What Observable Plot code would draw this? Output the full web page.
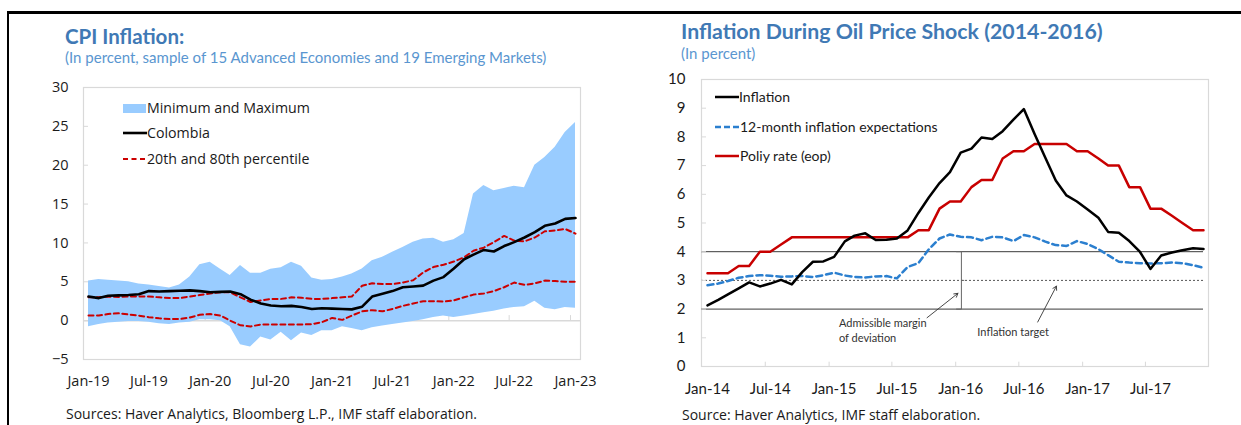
<!DOCTYPE html>
<html><head><meta charset="utf-8">
<script src="https://cdn.jsdelivr.net/npm/d3@7"></script>
<script src="https://cdn.jsdelivr.net/npm/@observablehq/plot@0.6"></script>
<style>
html,body{margin:0;padding:0;background:#fff;}
body{width:1241px;height:425px;overflow:hidden;position:relative;font-family:"Open Sans",sans-serif;}
.abs{position:absolute;white-space:nowrap;transform:translateY(-50%);line-height:1.2;}
.chart{position:absolute;}
</style></head><body>
<div style="position:absolute;left:8px;top:11px;width:1233px;height:2.5px;background:#000"></div>
<div style="position:absolute;left:7px;top:11px;width:2px;height:414px;background:#000"></div>
<script>
// ---------- Left chart: CPI inflation (monthly Jan-19 .. Jan-23) ----------
const cpiStart = "2019-01-01", cpiEnd = "2023-01-01";
const cpiMax = [5.1,5.3,5.2,5.1,5.0,4.7,4.6,4.4,4.2,4.6,5.6,7.2,7.5,6.6,5.8,7.1,6.1,6.1,6.6,6.8,7.5,7.0,5.5,5.2,
  5.3,5.6,6.0,6.65,7.7,8.15,8.8,9.4,10.1,10.5,10.6,10.1,10.4,11.2,16.3,17.4,16.7,17.0,17.3,17.1,20.0,21.0,22.3,24.2,25.5];
const cpiMin = [-0.8,-0.5,-0.3,-0.2,-0.1,-0.1,-0.2,-0.4,-0.5,-0.3,-0.2,0.1,0.1,0.0,-0.8,-3.1,-3.4,-2.1,-2.5,-1.5,-2.6,-1.6,-1.9,-1.3,
  -1.3,-0.8,-1.0,-1.3,-0.9,-0.7,-0.5,-0.3,-0.1,0.1,0.4,0.6,0.4,0.6,0.8,1.0,1.2,1.5,1.7,1.8,2.5,1.6,1.4,1.7,1.6];
const colombia = [3.1,2.9,3.2,3.25,3.3,3.4,3.8,3.75,3.8,3.85,3.9,3.8,3.65,3.7,3.75,3.4,2.7,2.2,1.95,1.85,1.9,1.75,1.5,1.6,
  1.55,1.5,1.45,1.8,3.1,3.45,3.8,4.3,4.4,4.5,5.15,5.6,6.7,7.9,8.5,9.1,8.9,9.6,10.1,10.7,11.4,12.2,12.5,13.1,13.2];
const p80 = [3.0,3.0,3.1,3.05,3.1,3.1,3.1,3.0,2.9,2.9,3.1,3.3,3.5,3.65,3.65,3.0,2.4,2.6,2.8,2.8,3.0,2.95,2.8,2.8,
  2.9,3.0,3.1,4.5,4.8,4.7,4.7,4.9,5.2,6.2,6.9,7.2,7.6,8.15,9.0,9.4,10.1,10.9,10.3,10.2,10.7,11.5,11.6,11.8,11.2];
const p20 = [0.65,0.65,0.85,0.95,0.8,0.65,0.45,0.3,0.2,0.2,0.4,0.75,0.85,0.65,0.0,-0.6,-0.75,-0.5,-0.5,-0.5,-0.5,-0.5,-0.45,-0.2,
  0.35,0.1,0.65,1.2,1.35,1.2,1.5,1.9,2.2,2.5,2.5,2.45,2.6,3.0,3.35,3.5,3.8,4.3,4.9,4.6,4.8,5.15,5.1,5.0,5.0];
const cpiTickDates = ["2019-01-01","2019-07-01","2020-01-01","2020-07-01","2021-01-01","2021-07-01","2022-01-01","2022-07-01","2023-01-01"];
const cpiTickLabels = ["Jan-19","Jul-19","Jan-20","Jul-20","Jan-21","Jul-21","Jan-22","Jul-22","Jan-23"];
const cpiYTicks = [-5,0,5,10,15,20,25,30];
const cpiLegend = ["Minimum and Maximum","Colombia","20th and 80th percentile"];

// ---------- Right chart: oil price shock (monthly Jan-14 .. Dec-17) ----------
const oilStart = "2014-01-01", oilEnd = "2017-12-01";
const inflation = [2.13,2.32,2.51,2.72,2.93,2.79,2.89,3.02,2.86,3.29,3.65,3.66,
  3.82,4.36,4.56,4.64,4.41,4.42,4.46,4.74,5.35,5.89,6.39,6.77,
  7.45,7.59,7.98,7.93,8.20,8.60,8.97,8.10,7.27,6.48,5.96,5.75,
  5.47,5.18,4.69,4.66,4.37,3.99,3.40,3.87,3.97,4.05,4.12,4.09];
const expectations = [2.83,2.89,2.98,3.09,3.15,3.18,3.16,3.13,3.14,3.15,3.12,3.18,
  3.27,3.17,3.12,3.10,3.14,3.15,3.07,3.47,3.60,4.08,4.46,4.60,
  4.52,4.50,4.40,4.52,4.50,4.37,4.58,4.50,4.35,4.23,4.20,4.37,
  4.27,4.09,3.88,3.65,3.62,3.60,3.59,3.60,3.62,3.60,3.53,3.44];
const policyRate = [3.25,3.25,3.25,3.5,3.5,4.0,4.0,4.25,4.5,4.5,4.5,4.5,
  4.5,4.5,4.5,4.5,4.5,4.5,4.5,4.5,4.75,4.75,5.5,5.75,
  5.75,6.25,6.5,6.5,7.25,7.5,7.5,7.75,7.75,7.75,7.75,7.5,
  7.5,7.25,7.0,7.0,6.25,6.25,5.5,5.5,5.25,5.0,4.75,4.75];
const oilTickDates = ["2014-01-01","2014-07-01","2015-01-01","2015-07-01","2016-01-01","2016-07-01","2017-01-01","2017-07-01"];
const oilTickLabels = ["Jan-14","Jul-14","Jan-15","Jul-15","Jan-16","Jul-16","Jan-17","Jul-17"];
const oilYTicks = [0,1,2,3,4,5,6,7,8,9,10];
const oilLegend = ["Inflation","12-month inflation expectations","Poliy rate (eop)"];
const targetBand = [2,4];      // admissible margin
const targetLine = [3];        // inflation target
const bracketPts = [{date:"2015-12-20",v:4},{date:"2016-01-03",v:4},{date:"2016-01-03",v:2},{date:"2015-12-20",v:2}];
const bracketMid = [{date:"2016-01-03",v:3},{date:"2016-01-10",v:3}];
const annotArrows = [
  {x1:"2015-09-26",y1:1.70,x2:"2015-12-24",y2:2.55},
  {x1:"2016-08-10",y1:1.55,x2:"2016-10-03",y2:2.80}
];
const annotTexts = [
  {date:"2015-01-15",v:1.28,text:"Admissible margin\nof deviation"},
  {date:"2016-02-18",v:1.22,text:"Inflation target"}
];

// ---------- helpers ----------
const P = s => new Date(s + (s.length === 10 ? "T00:00:00Z" : ""));
const months = (a, b) => d3.utcMonth.range(P(a), d3.utcMonth.offset(P(b), 1));

function addText(txt, x, y, css) {
  const d = document.createElement("div");
  d.className = "abs"; d.textContent = txt;
  d.style.left = x + "px"; d.style.top = y + "px";
  Object.assign(d.style, css);
  document.body.appendChild(d);
  return d;
}
function addSwatch(x, y, w, h, svgInner) {
  const s = document.createElementNS("http://www.w3.org/2000/svg", "svg");
  s.setAttribute("width", w); s.setAttribute("height", h);
  s.style.position = "absolute"; s.style.left = x + "px"; s.style.top = (y - h/2) + "px";
  s.innerHTML = svgInner;
  document.body.appendChild(s);
}

// ---------- left chart ----------
const cpiDates = months(cpiStart, cpiEnd);
const cpiData = cpiDates.map((d, i) => ({date: d, min: cpiMin[i], max: cpiMax[i], col: colombia[i], p20: p20[i], p80: p80[i]}));
const cpiLabelMap = new Map(cpiTickDates.map((d, i) => [+P(d), cpiTickLabels[i]]));
const grid = "#d9d9d9";

const left = Plot.plot({
  width: 600, height: 330,
  marginLeft: 83, marginRight: 20, marginTop: 17, marginBottom: 41,
  x: {type: "utc", domain: [P(cpiStart), P(cpiEnd)], range: [88, 575]},
  y: {domain: [-5, 30]},
  style: {fontFamily: "'Open Sans', sans-serif", fontSize: "14.5px", color: "#1a1a1a", background: "transparent", overflow: "visible"},
  marks: [
    Plot.frame({stroke: grid, strokeWidth: 1.2}),
    Plot.ruleY([0], {stroke: grid, strokeWidth: 1.5}),
    Plot.ruleX(cpiTickDates.slice(1).map(P), {y1: 0, y2: 0.65, stroke: grid, dx: -5}),
    Plot.areaY(cpiData, {x: "date", y1: "min", y2: "max", fill: "#99ccff"}),
    Plot.line(cpiData, {x: "date", y: "p80", stroke: "#cc0000", strokeWidth: 2, strokeDasharray: "5,3.5"}),
    Plot.line(cpiData, {x: "date", y: "p20", stroke: "#cc0000", strokeWidth: 2, strokeDasharray: "5,3.5"}),
    Plot.line(cpiData, {x: "date", y: "col", stroke: "#000", strokeWidth: 2.6}),
    Plot.tickY(cpiYTicks, {y: d => d, stroke: grid, insetRight: 492}),
    Plot.axisY({ticks: cpiYTicks, tickSize: 0, tickPadding: 15, fill: "#1a1a1a"}),
    Plot.axisX({ticks: cpiTickDates.map(P), tickFormat: d => cpiLabelMap.get(+d), tickSize: 0, tickPadding: 16, fill: "#1a1a1a"})
  ]
});
left.classList.add("chart");
left.style.left = "0px"; left.style.top = "70px";
document.body.appendChild(left);

// ---------- right chart ----------
const oilDates = months(oilStart, oilEnd);
const oilData = oilDates.map((d, i) => ({date: d, inf: inflation[i], exp: expectations[i], rate: policyRate[i]}));
const oilLabelMap = new Map(oilTickDates.map((d, i) => [+P(d), oilTickLabels[i]]));

const right = Plot.plot({
  width: 610, height: 345,
  marginLeft: 81, marginRight: 22, marginTop: 15, marginBottom: 43,
  x: {type: "utc", domain: [P(oilStart), P(oilEnd)], range: [87, 583]},
  y: {domain: [0, 10]},
  style: {fontFamily: "Lato, sans-serif", fontSize: "15px", color: "#1a1a1a", background: "transparent", overflow: "visible"},
  marks: [
    Plot.frame({stroke: grid, strokeWidth: 1.2}),
    Plot.ruleX(oilTickDates.slice(1).map(P), {y1: 0, y2: 0.15, stroke: grid, dx: -5}),
    Plot.ruleY(targetBand, {stroke: "#3a3a3a", strokeWidth: 1, insetRight: 5}),
    Plot.ruleY(targetLine, {stroke: "#555", strokeWidth: 1, strokeDasharray: "2,2", insetRight: 5}),
    Plot.line(bracketPts, {x: d => P(d.date), y: "v", stroke: "#666", strokeWidth: 1}),
    Plot.line(bracketMid, {x: d => P(d.date), y: "v", stroke: "#666", strokeWidth: 1}),
    Plot.arrow(annotArrows, {x1: d => P(d.x1), y1: "y1", x2: d => P(d.x2), y2: "y2", stroke: "#333", strokeWidth: 0.9, headLength: 7}),
    Plot.text(annotTexts, {x: d => P(d.date), y: "v", text: "text", textAnchor: "start", lineAnchor: "middle", lineHeight: 1.35, fontSize: 11, fontFamily: "Lato, sans-serif", fill: "#333"}),
    Plot.line(oilData, {x: "date", y: "exp", stroke: "#2b7fcf", strokeWidth: 2.5, strokeDasharray: "6,4"}),
    Plot.line(oilData, {x: "date", y: "rate", stroke: "#c80000", strokeWidth: 2.5}),
    Plot.line(oilData, {x: "date", y: "inf", stroke: "#000", strokeWidth: 2.5}),
    Plot.tickY(oilYTicks, {y: d => d, stroke: grid, insetRight: 502}),
    Plot.axisY({ticks: oilYTicks, tickSize: 0, tickPadding: 16, fill: "#1a1a1a"}),
    Plot.axisX({ticks: oilTickDates.map(P), tickFormat: d => oilLabelMap.get(+d), tickSize: 0, tickPadding: 17, fill: "#1a1a1a"})
  ]
});
right.classList.add("chart");
right.style.left = "620px"; right.style.top = "64px";
document.body.appendChild(right);

// ---------- titles, legends, sources ----------
const titleCss = {fontFamily: "Lato, sans-serif", fontWeight: "bold", fontSize: "20.5px", color: "#4079b5"};
const subCss = {fontFamily: "Lato, sans-serif", fontSize: "15px", color: "#5a96d0"};
addText("CPI Inflation:", 65, 36, titleCss);
addText("(In percent, sample of 15 Advanced Economies and 19 Emerging Markets)", 65, 57, subCss);
addText("Inflation During Oil Price Shock (2014-2016)", 681, 32, Object.assign({}, titleCss, {fontSize: "21.3px"}));
addText("(In percent)", 681, 53, subCss);

const legL = {fontFamily: "'Open Sans', sans-serif", fontSize: "14.2px", color: "#1a1a1a"};
addSwatch(123, 108, 23, 9, '<rect x="0" y="0" width="23" height="9" fill="#99ccff"/>');
addText(cpiLegend[0], 147, 108, legL);
addSwatch(123, 133, 24, 6, '<line x1="0" x2="24" y1="3" y2="3" stroke="#000" stroke-width="2.6"/>');
addText(cpiLegend[1], 147, 133, legL);
addSwatch(123, 159, 24, 6, '<line x1="0" x2="24" y1="3" y2="3" stroke="#cc0000" stroke-width="2" stroke-dasharray="5,3.5"/>');
addText(cpiLegend[2], 147, 159, legL);

const legR = {fontFamily: "Lato, sans-serif", fontSize: "14px", color: "#1a1a1a"};
addSwatch(715, 97, 24, 6, '<line x1="0" x2="24" y1="3" y2="3" stroke="#000" stroke-width="2.5"/>');
addText(oilLegend[0], 739, 97, legR);
addSwatch(715, 127, 24, 6, '<line x1="0" x2="24" y1="3" y2="3" stroke="#2b7fcf" stroke-width="2.5" stroke-dasharray="6,3"/>');
addText(oilLegend[1], 740, 127, legR);
addSwatch(715, 156, 24, 6, '<line x1="0" x2="24" y1="3" y2="3" stroke="#c80000" stroke-width="2.5"/>');
addText(oilLegend[2], 740, 156, legR);

const srcCss = {fontFamily: "'Open Sans', sans-serif", fontSize: "14px", color: "#1a1a1a"};
addText("Sources: Haver Analytics, Bloomberg L.P., IMF staff elaboration.", 66, 414, srcCss);
addText("Source: Haver Analytics, IMF staff elaboration.", 682, 415, srcCss);
</script>
</body></html>
